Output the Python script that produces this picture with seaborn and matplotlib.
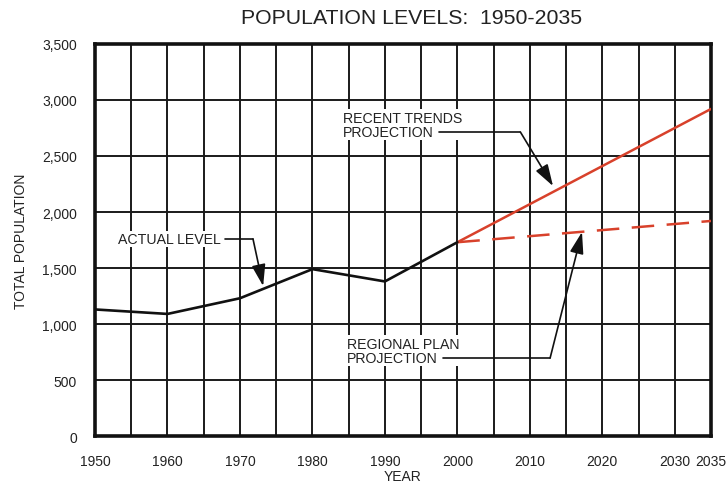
import matplotlib
matplotlib.use("Agg")
import matplotlib.pyplot as plt
import seaborn as sns
import pandas as pd

# Historical population counts
actual_years = [1950, 1960, 1970, 1980, 1990, 2000]
actual_pop = [1130, 1090, 1230, 1490, 1380, 1730]

# Projections from the year 2000 to 2035
proj_years = [2000, 2035]
trend_pop = [1730, 2920]
plan_pop = [1730, 1920]

x_ticks = [1950, 1960, 1970, 1980, 1990, 2000, 2010, 2020, 2030, 2035]
y_ticks = [0, 500, 1000, 1500, 2000, 2500, 3000, 3500]

sns.set_theme(style="white")
plt.rcParams["font.family"] = ["Liberation Sans", "DejaVu Sans"]

fig = plt.figure(figsize=(7.26, 4.89), dpi=100)
ax = fig.add_axes([0.1309, 0.1063, 0.8484, 0.8017])

grid_col = "#1a1a1a"
for yr in range(1955, 2035, 5):
    ax.axvline(yr, color=grid_col, lw=1.4, zorder=1)
for v in range(500, 3500, 500):
    ax.axhline(v, color=grid_col, lw=1.4, zorder=1)

red = "#d8412b"
actual = pd.DataFrame({"year": actual_years, "pop": actual_pop})
trend = pd.DataFrame({"year": proj_years, "pop": trend_pop})
plan = pd.DataFrame({"year": proj_years, "pop": plan_pop})

sns.lineplot(data=trend, x="year", y="pop", ax=ax, color=red, lw=1.8, zorder=3)
sns.lineplot(data=plan, x="year", y="pop", ax=ax, color=red, lw=1.8,
             dashes=False, zorder=3).lines[-1].set_dashes([9, 5])
sns.lineplot(data=actual, x="year", y="pop", ax=ax, color="#111111", lw=1.9, zorder=4)

ax.set_xlim(1950, 2035)
ax.set_ylim(0, 3500)
ax.set_xticks(x_ticks)
ax.set_yticks(y_ticks)
ax.set_yticklabels([f"{v:,}" for v in y_ticks])
ax.tick_params(axis="x", length=4, width=0.6, color="#cccccc", pad=9,
               labelsize=10, labelcolor="#222222")
ax.tick_params(axis="y", length=0, pad=13, labelsize=10, labelcolor="#222222")
for s in ax.spines.values():
    s.set_color("#111111")
    s.set_linewidth(2.6)
    s.set_visible(True)

ax.set_xlabel("YEAR", fontsize=10, color="#222222", labelpad=1)
ax.set_ylabel("TOTAL POPULATION", fontsize=10, color="#222222", labelpad=10)
fig.text(0.5675, 0.963, "POPULATION LEVELS:  1950-2035", ha="center", va="center",
         fontsize=15.3, color="#222222")

txt_kw = dict(fontsize=10.2, color="#222222", zorder=6,
              bbox=dict(facecolor="white", edgecolor="none", pad=1.0))
arrow_kw = dict(arrowstyle="-|>,head_length=1.1,head_width=0.35", color="#111111",
                lw=1.2, shrinkA=0, shrinkB=0)

# ACTUAL LEVEL
ax.text(1953.2, 1759, "ACTUAL LEVEL", ha="left", va="center", **txt_kw)
ax.plot([1968.0, 1971.8], [1759, 1759], color="#111111", lw=1.2, zorder=6)
ax.annotate("", xy=(1973.2, 1339), xytext=(1971.8, 1759), arrowprops=arrow_kw, zorder=6)

# RECENT TRENDS PROJECTION
ax.text(1984.2, 2780, "RECENT TRENDS\nPROJECTION", ha="left", va="center",
        linespacing=1.0, **txt_kw)
ax.plot([1997.5, 2008.7], [2714, 2714], color="#111111", lw=1.2, zorder=6)
ax.annotate("", xy=(2013.2, 2232), xytext=(2008.7, 2714), arrowprops=arrow_kw, zorder=6)

# REGIONAL PLAN PROJECTION
ax.text(1984.8, 760, "REGIONAL PLAN\nPROJECTION", ha="left", va="center",
        linespacing=1.0, **txt_kw)
ax.plot([1998.0, 2012.8], [696, 696], color="#111111", lw=1.2, zorder=6)
ax.annotate("", xy=(2017.2, 1821), xytext=(2012.8, 696), arrowprops=arrow_kw, zorder=6)

fig.savefig("out.png", dpi=100, facecolor="white")
